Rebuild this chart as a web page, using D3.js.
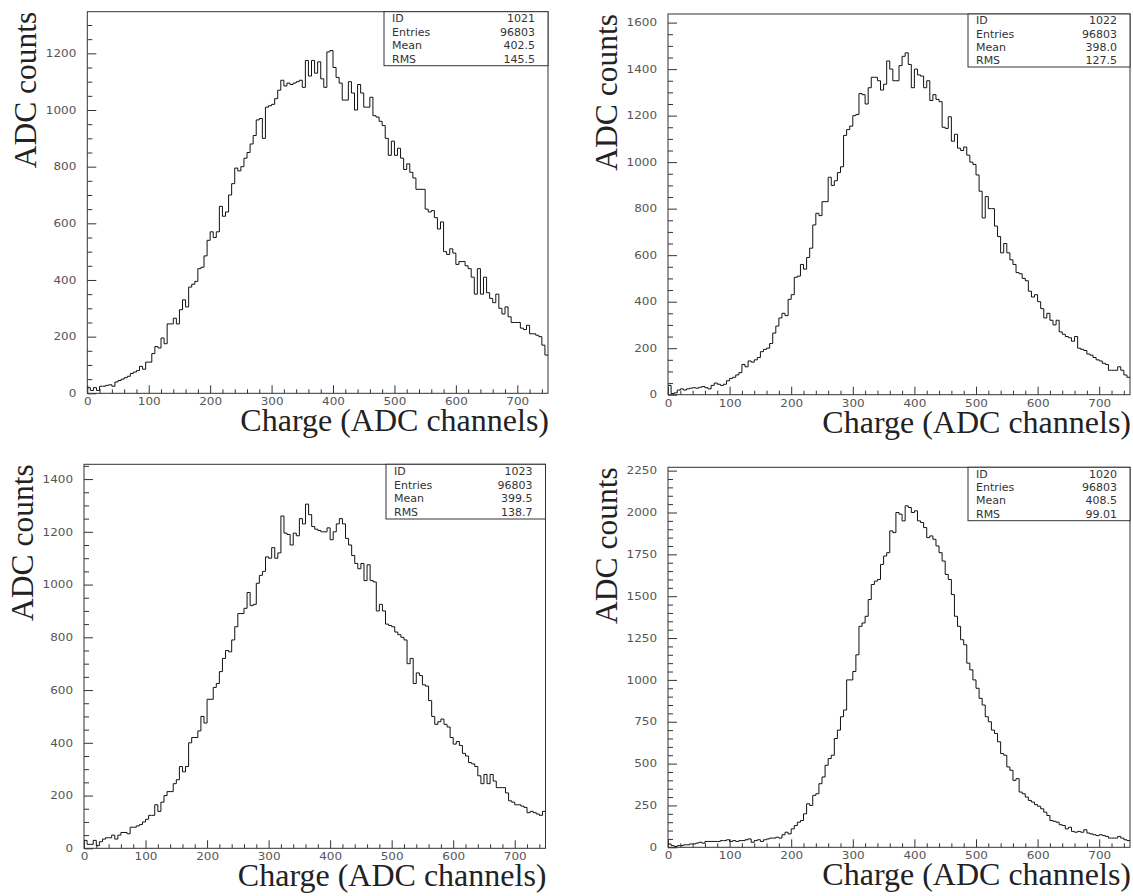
<!DOCTYPE html>
<html>
<head>
<meta charset="utf-8">
<script src="https://cdn.jsdelivr.net/npm/d3@7/dist/d3.min.js"></script>
<style>
  html, body { margin: 0; padding: 0; background: #fff; }
  svg { display: block; }
</style>
</head>
<body>
<svg id="chart" width="1133" height="896"></svg>
<script>
// ---------------- DATA ----------------
// bin edges: 150 bins of width 5 from 0 to 750 (ADC channels)
const binWidth = 5;
const xMax = 750;
const xMajorTicks = [0, 100, 200, 300, 400, 500, 600, 700];

const histIds = ["1021", "1022", "1023", "1020"];
const histEntries = ["96803", "96803", "96803", "96803"];
const histMeans = ["402.5", "398.0", "399.5", "408.5"];
const histRms = ["145.5", "127.5", "138.7", "99.01"];
const statLabels = ["ID", "Entries", "Mean", "RMS"];

const yMaxes = [1347, 1637, 1456, 2270];
const yMajorSteps = [200, 200, 200, 250];

const h1021 = [
  20,10,20,10,25,25,28,30,25,40,
  45,50,55,60,70,75,80,95,85,110,
  110,140,165,160,195,175,245,245,265,245,
  295,330,305,375,385,395,440,445,485,540,
  570,550,570,660,625,640,700,740,795,785,
  800,830,850,880,910,965,970,900,1010,1015,
  1020,1040,1070,1105,1085,1095,1090,1095,1100,1105,
  1080,1175,1120,1175,1130,1170,1110,1080,1205,1210,
  1150,1115,1095,1035,1035,1100,1060,1000,1090,1060,
  1010,1010,1045,980,975,960,945,900,840,890,
  840,865,830,790,810,780,760,720,720,720,
  650,640,645,620,580,605,500,490,510,495,
  455,465,465,450,440,410,350,440,350,410,
  355,335,320,350,300,280,305,270,250,250,
  250,230,225,240,210,210,205,200,170,135
];

const h1022 = [
  40,5,8,20,25,20,25,28,30,28,
  32,35,30,25,40,50,45,40,45,60,
  70,75,85,95,130,120,145,140,150,160,
  185,195,200,220,265,295,330,350,340,410,
  430,505,510,560,540,590,630,730,780,770,
  830,830,935,900,920,955,980,1115,1140,1155,
  1200,1205,1295,1290,1250,1320,1365,1365,1350,1310,
  1335,1435,1400,1350,1350,1415,1455,1470,1420,1320,
  1400,1375,1370,1320,1350,1265,1290,1270,1260,1150,
  1145,1195,1090,1120,1060,1050,1065,1030,1000,990,
  945,875,760,852,800,800,725,680,610,650,
  610,580,560,525,520,500,490,445,420,430,
  400,370,330,350,320,300,320,270,260,250,
  245,230,250,200,195,190,175,170,160,150,
  145,135,130,105,105,105,120,105,85,75
];

const h1023 = [
  30,15,15,30,10,25,35,40,40,50,
  35,50,60,60,55,80,80,85,90,100,
  110,125,125,165,140,175,200,215,215,245,
  260,310,290,310,400,420,420,445,500,475,
  565,565,610,625,670,720,750,745,790,840,
  890,890,910,970,920,925,1005,1035,1050,1105,
  1100,1140,1100,1120,1260,1195,1190,1150,1195,1185,
  1250,1230,1305,1265,1220,1210,1205,1200,1200,1215,
  1170,1200,1230,1250,1230,1175,1150,1110,1080,1060,
  1080,1015,1075,1015,1010,900,925,900,850,845,
  840,820,810,800,790,700,720,625,665,655,
  620,615,560,500,470,480,490,470,460,420,
  395,405,390,360,350,325,320,310,275,245,
  280,245,280,255,230,230,230,210,180,175,
  165,165,160,155,135,140,135,130,125,140
];

const h1020 = [
  20,10,5,10,10,15,15,20,20,25,
  30,25,35,35,35,35,35,40,40,45,
  35,40,35,40,40,45,50,30,40,45,
  35,45,50,55,55,60,55,75,90,80,
  110,130,150,160,200,260,250,310,320,380,
  420,490,530,550,650,700,780,820,1000,1000,
  1050,1150,1320,1340,1380,1480,1570,1590,1600,1690,
  1740,1760,1890,1880,2000,1990,1950,2040,2030,2000,
  2010,1950,1940,1910,1850,1860,1840,1800,1760,1710,
  1630,1600,1510,1380,1320,1240,1210,1100,1060,1000,
  950,890,850,780,750,700,680,630,560,550,
  480,460,400,410,330,320,300,280,270,255,
  245,230,210,190,160,155,150,135,130,110,
  120,95,90,95,90,105,85,80,75,70,
  75,70,65,55,55,55,65,55,45,40
];

const histData = [h1021, h1022, h1023, h1020];

// ---------------- LAYOUT ----------------
const frames = [
  { l: 87.3, t: 11.7, r: 548, b: 393.3, boxL: 384, boxB: 65.7 },
  { l: 668,  t: 14,   r: 1130, b: 394.7, boxL: 968, boxB: 67 },
  { l: 84,   t: 464.3, r: 545.5, b: 848.3, boxL: 386, boxB: 519 },
  { l: 668,  t: 467.3, r: 1130, b: 847.3, boxL: 968, boxB: 520.7 }
];

const svg = d3.select("#chart");
const tickFont = "'DejaVu Sans', sans-serif";
const titleFont = "'Liberation Serif', 'Times New Roman', serif";
const stretch = 1.2;   // the original's screen font is wider than DejaVu

frames.forEach((f, p) => {
  const data = histData[p];
  const x = d3.scaleLinear().domain([0, xMax]).range([f.l, f.r]);
  const y = d3.scaleLinear().domain([0, yMaxes[p]]).range([f.b, f.t]);
  const g = svg.append("g");

  // frame
  g.append("rect")
    .attr("x", f.l).attr("y", f.t)
    .attr("width", f.r - f.l).attr("height", f.b - f.t)
    .attr("fill", "none").attr("stroke", "#333").attr("stroke-width", 1);

  // y ticks
  const yMinor = d3.range(0, yMaxes[p], 50).filter(v => v % yMajorSteps[p] !== 0);
  const yMaj = d3.range(0, yMaxes[p], yMajorSteps[p]);
  g.append("g").attr("transform", `translate(${f.l},0)`)
    .call(d3.axisLeft(y).tickValues(yMinor).tickSizeInner(-5).tickSizeOuter(0).tickFormat(""))
    .call(s => s.select(".domain").remove())
    .call(s => s.selectAll("line").attr("stroke", "#333"));
  g.append("g").attr("transform", `translate(${f.l},0)`)
    .call(d3.axisLeft(y).tickValues(yMaj).tickSizeInner(-9).tickSizeOuter(0).tickPadding(11).tickFormat(d3.format("d")))
    .call(s => s.select(".domain").remove())
    .call(s => s.selectAll("line").attr("stroke", "#333"))
    .call(s => s.selectAll("text")
      .attr("font-family", tickFont).attr("font-size", "10px").attr("fill", "#555")
      .attr("x", -11 / stretch).attr("transform", `scale(${stretch},1)`));

  // x ticks
  const xMinor = d3.range(0, xMax + 1, 20).filter(v => v % 100 !== 0);
  g.append("g").attr("transform", `translate(0,${f.b})`)
    .call(d3.axisBottom(x).tickValues(xMinor).tickSizeInner(-4).tickSizeOuter(0).tickFormat(""))
    .call(s => s.select(".domain").remove())
    .call(s => s.selectAll("line").attr("stroke", "#333"));
  g.append("g").attr("transform", `translate(0,${f.b})`)
    .call(d3.axisBottom(x).tickValues(xMajorTicks).tickSizeInner(-8).tickSizeOuter(0).tickPadding(5).tickFormat(d3.format("d")))
    .call(s => s.select(".domain").remove())
    .call(s => s.selectAll("line").attr("stroke", "#333"))
    .call(s => s.selectAll("text")
      .attr("font-family", tickFont).attr("font-size", "10px").attr("fill", "#555")
      .attr("transform", `scale(${stretch},1)`));

  // histogram (step outline)
  const pts = data.map((v, i) => [i * binWidth, v]);
  pts.push([data.length * binWidth, data[data.length - 1]]);
  const line = d3.line().x(d => x(d[0])).y(d => y(d[1])).curve(d3.curveStepAfter);
  g.append("path").attr("d", line(pts))
    .attr("fill", "none").attr("stroke", "#111").attr("stroke-width", 1);

  // stats box
  g.append("rect")
    .attr("x", f.boxL).attr("y", f.t)
    .attr("width", f.r - f.boxL).attr("height", f.boxB - f.t)
    .attr("fill", "#fff").attr("stroke", "#333").attr("stroke-width", 1);
  const vals = [histIds[p], histEntries[p], histMeans[p], histRms[p]];
  const rowH = (f.boxB - f.t) / 4;
  statLabels.forEach((lab, i) => {
    const yy = f.t + rowH * (i + 0.5) + 3.8;
    g.append("text")
      .attr("transform", `translate(${f.boxL + 8},${yy}) scale(1.1,1)`)
      .attr("font-family", tickFont).attr("font-size", "10px").attr("fill", "#333")
      .text(lab);
    g.append("text")
      .attr("transform", `translate(${f.r - 13},${yy}) scale(1.1,1)`)
      .attr("text-anchor", "end")
      .attr("font-family", tickFont).attr("font-size", "10px").attr("fill", "#333")
      .text(vals[i]);
  });

  // axis titles
  g.append("text")
    .attr("transform", `translate(${f.l - 51},${f.t}) rotate(-90)`)
    .attr("text-anchor", "end")
    .attr("font-family", titleFont).attr("font-size", "31.5px").attr("fill", "#222")
    .text("ADC counts");
  g.append("text")
    .attr("x", f.r + 1).attr("y", f.b + 38)
    .attr("text-anchor", "end")
    .attr("font-family", titleFont).attr("font-size", "32px").attr("fill", "#222")
    .text("Charge (ADC channels)");
});
</script>
</body>
</html>
